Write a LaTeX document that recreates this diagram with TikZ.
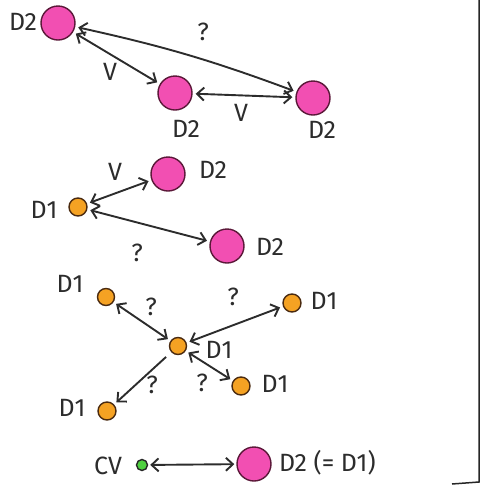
\documentclass[tikz,border=0pt]{standalone}
\usepackage{fontspec}
\setmainfont{Fira Sans}
\usetikzlibrary{arrows.meta}
\definecolor{magfill}{HTML}{F24FB2}
\definecolor{magline}{HTML}{5A1838}
\definecolor{orfill}{HTML}{F5A223}
\definecolor{orline}{HTML}{4A2A10}
\definecolor{grfill}{HTML}{4FD040}
\definecolor{ink}{HTML}{2C2C2C}
\tikzset{
  dtwo/.style={circle, draw=magline, fill=magfill, line width=1.4pt, minimum size=34pt, inner sep=0pt},
  done/.style={circle, draw=orline, fill=orfill, line width=1.4pt, minimum size=18pt, inner sep=0pt},
  cvdot/.style={circle, draw=black!85, fill=grfill, line width=1.4pt, minimum size=11pt, inner sep=0pt},
  lbl/.style={text=ink, font=\fontsize{25}{25}\selectfont, inner sep=0pt},
  qm/.style={text=ink, font=\fontsize{25}{25}\selectfont, inner sep=0pt},
  link/.style={draw=ink, line width=1.9pt, {Straight Barb[length=7pt,width=13pt]}-{Straight Barb[length=7pt,width=13pt]}, shorten <=3pt, shorten >=3pt},
  frame/.style={draw=black!85, line width=1.5pt}
}
\begin{document}
\begin{tikzpicture}[x=1pt,y=-1pt]
\useasboundingbox (0,0) rectangle (481,491);
% frame
\coordinate (ftop) at (479,0);
\coordinate (fcorner) at (479,482);
\coordinate (fend) at (452,484);
\draw[frame] (ftop) -- (fcorner) -- (fend);
% top section
\node[dtwo] (a) at (58,23) {};
\node[dtwo] (b) at (175,93) {};
\node[dtwo] (c) at (313,98) {};
\node[lbl] (la) at (23,22) {D2};
\node[lbl] (lb) at (186,129) {D2};
\node[lbl] (lc) at (322,130) {D2};
\draw[link] (a) -- (b);
\draw[link] (a) to[bend left=4] (c);
\draw[link] (b) -- (c);
\node[qm] (q1) at (203,32) {?};
\node[lbl] (v1) at (110,72) {V};
\node[lbl] (v2) at (241,113) {V};
% middle section
\node[done] (m1) at (78,207) {};
\node[dtwo] (m2) at (168,174) {};
\node[dtwo] (m3) at (227,246) {};
\node[lbl] (lm1) at (44,210) {D1};
\node[lbl] (lm2) at (213,170) {D2};
\node[lbl] (lm3) at (270,247) {D2};
\draw[link] (m1) -- (m2);
\draw[link] (m1) -- (m3);
\node[lbl] (v3) at (115,172) {V};
\node[qm] (q2) at (137,253) {?};
% star section
\node[done, minimum size=17pt] (s0) at (178,346) {};
\node[done, minimum size=17pt] (s1) at (106,297) {};
\node[done] (s2) at (292,303) {};
\node[done] (s3) at (241,386) {};
\node[done] (s4) at (107,411) {};
\node[lbl] (ls0) at (219,350) {D1};
\node[lbl] (ls1) at (70,284) {D1};
\node[lbl] (ls2) at (324,301) {D1};
\node[lbl] (ls3) at (275,384) {D1};
\node[lbl] (ls4) at (72,408) {D1};
\draw[link] (s0) -- (s1);
\draw[link] (s0) -- (s2);
\draw[link] (s0) -- (s3);
\draw[draw=ink, line width=1.9pt, -{Straight Barb[length=7pt,width=13pt]}, shorten <=7pt, shorten >=3pt] (s0) -- (s4);
\node[qm] (q3) at (151,307) {?};
\node[qm] (q4) at (233,297) {?};
\node[qm] (q5) at (152,385) {?};
\node[qm] (q6) at (202,383) {?};
% bottom
\node[cvdot] (cv) at (142,465) {};
\node[dtwo] (d) at (254,464) {};
\node[lbl] (lcv) at (108,466) {CV};
\node[lbl, anchor=west] (ld) at (279,463) {D2 (= D1)};
\draw[link, shorten <=2pt, shorten >=2pt] (cv) -- (d);
\end{tikzpicture}
\end{document}
